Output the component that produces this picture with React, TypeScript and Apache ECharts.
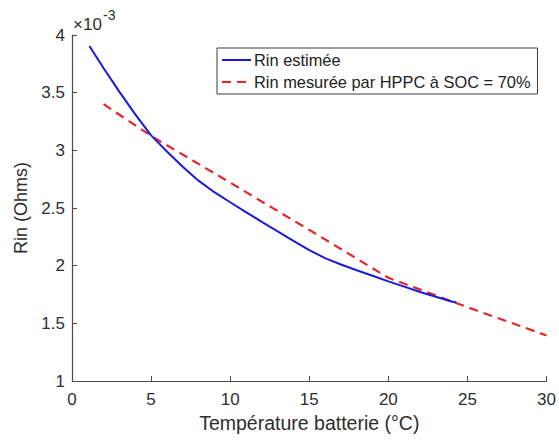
import React, { useEffect, useRef } from "react";
import * as echarts from "echarts";

// Température batterie (°C) and Rin (×10^-3 Ohms)
const estimatedTemp = [1.1, 2, 3, 4, 5, 6, 7, 8, 9, 10, 11, 12, 13, 14, 15, 16, 17, 18, 19, 20, 21, 22, 23, 24, 24.3];
const estimatedRin = [3.905, 3.712, 3.507, 3.312, 3.13, 2.99, 2.857, 2.737, 2.637, 2.55, 2.465, 2.38, 2.297, 2.215, 2.135, 2.065, 2.01, 1.96, 1.912, 1.864, 1.818, 1.772, 1.73, 1.69, 1.68];

const measuredTemp = [2, 5, 10, 15, 20, 25, 30];
const measuredRin = [3.4, 3.125, 2.72, 2.31, 1.895, 1.64, 1.395];

const xTicks = { min: 0, max: 30, interval: 5 };
const yTicks = { min: 1, max: 4, interval: 0.5 };

const seriesNames = ["Rin estimée", "Rin mesurée par HPPC à SOC = 70%"];
const xLabel = "Température batterie (°C)";
const yLabel = "Rin (Ohms)";

const FONT = 'Arial, "Liberation Sans", Helvetica, sans-serif';
const AXIS_COLOR = "#4a4a4a";
const TEXT_COLOR = "#2e2e2e";
const BLUE = "#1a1ad6";
const RED = "#e5252b";

export default function App() {
  const ref = useRef<HTMLDivElement>(null);

  useEffect(() => {
    if (!ref.current) return;
    const chart = echarts.init(ref.current, undefined, { renderer: "svg" });
    const est = estimatedTemp.map((t, i) => [t, estimatedRin[i]]);
    const mes = measuredTemp.map((t, i) => [t, measuredRin[i]]);
    chart.setOption({
      animation: false,
      backgroundColor: "#ffffff",
      textStyle: { fontFamily: FONT },
      grid: { left: 72, right: 9, top: 35, bottom: 59, containLabel: false },
      xAxis: {
        type: "value",
        min: xTicks.min,
        max: xTicks.max,
        interval: xTicks.interval,
        name: xLabel,
        nameLocation: "middle",
        nameGap: 25,
        nameTextStyle: { fontSize: 19.5, color: TEXT_COLOR, fontFamily: FONT },
        axisLine: { show: true, lineStyle: { color: AXIS_COLOR, width: 1.2 } },
        axisTick: { show: true, inside: true, length: 5, lineStyle: { color: AXIS_COLOR } },
        axisLabel: { fontSize: 17, color: TEXT_COLOR, margin: 10, fontFamily: FONT },
        splitLine: { show: false },
      },
      yAxis: {
        type: "value",
        min: yTicks.min,
        max: yTicks.max,
        interval: yTicks.interval,
        name: yLabel,
        nameLocation: "middle",
        nameGap: 39,
        nameRotate: 90,
        nameTextStyle: { fontSize: 18, color: TEXT_COLOR, fontFamily: FONT },
        axisLine: { show: true, lineStyle: { color: AXIS_COLOR, width: 1.2 } },
        axisTick: { show: true, inside: true, length: 5, lineStyle: { color: AXIS_COLOR } },
        axisLabel: { fontSize: 17, color: TEXT_COLOR, margin: 7, fontFamily: FONT },
        splitLine: { show: false },
      },
      legend: {
        left: 217,
        top: 48,
        orient: "vertical",
        padding: [4, 7, 4, 4],
        itemGap: 6,
        itemWidth: 29,
        itemHeight: 14,
        backgroundColor: "#ffffff",
        borderColor: "#3a3a3a",
        borderWidth: 1,
        itemStyle: { opacity: 0, borderWidth: 0 },
        lineStyle: { width: 2 },
        textStyle: { fontSize: 16.4, color: "#222", fontFamily: FONT, padding: [0, 0, 0, -2] },
        data: seriesNames,
      },
      graphic: [
        {
          type: "text",
          left: 73,
          top: 16,
          style: { text: "×10", fontSize: 17, fill: TEXT_COLOR, fontFamily: FONT },
        },
        {
          type: "text",
          left: 103,
          top: 8,
          style: { text: "-3", fontSize: 14, fill: TEXT_COLOR, fontFamily: FONT },
        },
      ],
      series: [
        {
          name: seriesNames[0],
          type: "line",
          data: est,
          showSymbol: false,
          symbol: "none",
          lineStyle: { color: BLUE, width: 2 },
          itemStyle: { color: BLUE },
          z: 3,
        },
        {
          name: seriesNames[1],
          type: "line",
          data: mes,
          showSymbol: false,
          symbol: "none",
          lineStyle: { color: RED, width: 2.2, type: [9, 6] },
          itemStyle: { color: RED },
          z: 2,
        },
      ],
    });
    return () => chart.dispose();
  }, []);

  return (
    <div
      ref={ref}
      style={{ position: "absolute", left: 0, top: 0, width: 559, height: 440 }}
    />
  );
}
